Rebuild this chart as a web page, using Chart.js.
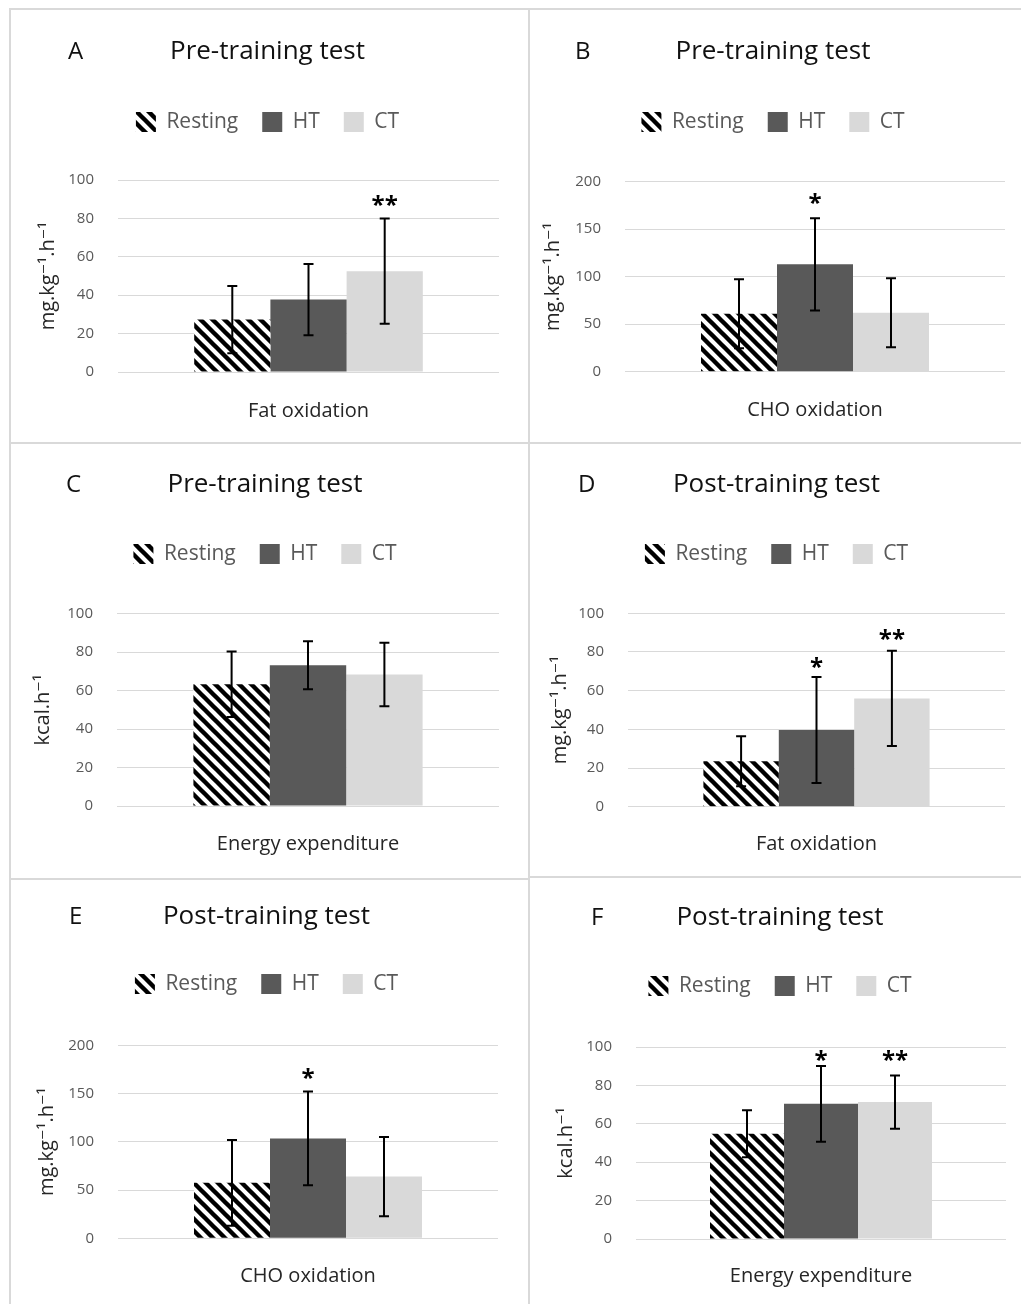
<!DOCTYPE html>
<html>
<head>
<meta charset="utf-8">
<script src="https://cdn.jsdelivr.net/npm/chart.js@4.4.1/dist/chart.umd.min.js"></script>
<style>
  body { margin: 0; background: #fff; }
  #page { position: relative; width: 1021px; height: 1304px; overflow: hidden; background: #fff; }
  .panel { position: absolute; box-sizing: border-box; border-top: 2px solid #d9d9d9; border-left: 2px solid #d9d9d9; }
  #page canvas { position: absolute; }
</style>
</head>
<body>
<div id="page"></div>
<script>
// data, one entry per panel A..F
var groups = ['Resting', 'HT', 'CT'];
var letters = ['A', 'B', 'C', 'D', 'E', 'F'];
var titles = ['Pre-training test', 'Pre-training test', 'Pre-training test',
              'Post-training test', 'Post-training test', 'Post-training test'];
var categories = ['Fat oxidation', 'CHO oxidation', 'Energy expenditure',
                  'Fat oxidation', 'CHO oxidation', 'Energy expenditure'];
var units = ['mg.kg⁻¹.h⁻¹', 'mg.kg⁻¹.h⁻¹', 'kcal.h⁻¹', 'mg.kg⁻¹.h⁻¹', 'mg.kg⁻¹.h⁻¹', 'kcal.h⁻¹'];
var yMax = [100, 200, 100, 100, 200, 100];
var yStep = [20, 50, 20, 20, 50, 20];

var restingMean = [27.3, 61, 63.3, 23.5, 57.5, 54.8];
var htMean = [37.7, 113, 73.2, 39.7, 103.5, 70.4];
var ctMean = [52.5, 62, 68.4, 56, 64, 71.3];
var restingSD = [17.5, 36.3, 17, 12.9, 44.4, 12.2];
var htSD = [18.6, 48.6, 12.5, 27.4, 48.5, 19.7];
var ctSD = [27.4, 36.3, 16.5, 24.6, 41.1, 13.9];

var htMarks = ['', '*', '', '*', '*', '*'];
var ctMarks = ['**', '', '', '**', '', '**'];
var htMarkAt = [0, 182.8, 0, 75, 171, 95.8];
var ctMarkAt = [89.6, 0, 0, 89.3, 0, 95.8];

// layout of each panel on the page (pixels)
var boxes = [
    {x: 11,  y: 10,  w: 517, h: 431, letterX: 57, titleY: 42, legendY: 112, top: 170,   bottom: 362,   left: 107, right: 488, yTitleX: 37, xLabelY: 400},
    {x: 531, y: 10,  w: 490, h: 431, letterX: 44, titleY: 42, legendY: 112, top: 171.7, bottom: 361.7, left: 94,  right: 474, yTitleX: 22, xLabelY: 399},
    {x: 11,  y: 444, w: 517, h: 432, letterX: 55, titleY: 41, legendY: 110, top: 169.7, bottom: 362,   left: 106, right: 488, yTitleX: 32, xLabelY: 399},
    {x: 531, y: 444, w: 490, h: 432, letterX: 47, titleY: 41, legendY: 110, top: 169.3, bottom: 362.7, left: 97,  right: 474, yTitleX: 29, xLabelY: 399},
    {x: 11,  y: 880, w: 517, h: 424, letterX: 58, titleY: 37, legendY: 104, top: 165.3, bottom: 358.3, left: 107, right: 487, yTitleX: 36, xLabelY: 395},
    {x: 531, y: 878, w: 490, h: 426, letterX: 60, titleY: 40, legendY: 108, top: 169,   bottom: 361,   left: 105, right: 475, yTitleX: 35, xLabelY: 397}
];
var frames = [
    {x: 9, y: 8, w: 519, h: 434}, {x: 528, y: 8, w: 493, h: 434},
    {x: 9, y: 442, w: 519, h: 436}, {x: 528, y: 442, w: 493, h: 434},
    {x: 9, y: 878, w: 519, h: 426}, {x: 528, y: 876, w: 493, h: 428}
];

var FONT = '"Open Sans", "DejaVu Sans", sans-serif';
var TITLE_SIZE = 26;
Chart.defaults.font.family = FONT;

var page = document.getElementById('page');

frames.forEach(function (f) {
    var d = document.createElement('div');
    d.className = 'panel';
    d.style.left = f.x + 'px';
    d.style.top = f.y + 'px';
    d.style.width = f.w + 'px';
    d.style.height = f.h + 'px';
    page.appendChild(d);
});

function makeHatch() {
    var c = document.createElement('canvas');
    c.width = 12;
    c.height = 12;
    var g = c.getContext('2d');
    g.fillStyle = '#ffffff';
    g.fillRect(0, 0, 12, 12);
    g.strokeStyle = '#000000';
    g.lineWidth = 4.4;
    g.beginPath();
    for (var k = -1; k <= 1; k++) {
        g.moveTo(k * 12 - 3, -3);
        g.lineTo(k * 12 + 15, 15);
    }
    g.stroke();
    return g.createPattern(c, 'repeat');
}
var hatch = makeHatch();

// error bars and significance marks
var errorBars = {
    id: 'errorBars',
    afterDatasetsDraw: function (chart) {
        var ctx = chart.ctx;
        var y = chart.scales.y;
        ctx.save();
        chart.data.datasets.forEach(function (ds, i) {
            var meta = chart.getDatasetMeta(i);
            meta.data.forEach(function (bar, j) {
                var v = ds.data[j], e = ds.errors[j];
                var t = y.getPixelForValue(v + e);
                var b = y.getPixelForValue(v - e);
                ctx.strokeStyle = '#000';
                ctx.lineWidth = 2;
                ctx.beginPath();
                ctx.moveTo(bar.x, t); ctx.lineTo(bar.x, b);
                ctx.moveTo(bar.x - 5, t); ctx.lineTo(bar.x + 5, t);
                ctx.moveTo(bar.x - 5, b); ctx.lineTo(bar.x + 5, b);
                ctx.stroke();
                if (ds.mark) {
                    ctx.fillStyle = '#000';
                    ctx.font = 'bold 24px ' + FONT;
                    ctx.textAlign = 'center';
                    ctx.textBaseline = 'alphabetic';
                    ctx.fillText(ds.mark, bar.x, y.getPixelForValue(ds.markAt) + 13);
                }
            });
        });
        ctx.restore();
    }
};

var panelLetter = {
    id: 'panelLetter',
    afterDraw: function (chart, args, opts) {
        var ctx = chart.ctx;
        ctx.save();
        ctx.fillStyle = '#111';
        ctx.font = '24px ' + FONT;
        ctx.textAlign = 'left';
        ctx.textBaseline = 'middle';
        ctx.fillText(opts.text, opts.x, opts.y);
        ctx.restore();
    }
};

// room between the legend and the plot
var legendGap = {
    id: 'legendGap',
    beforeLayout: function (chart, args, opts) {
        var lg = chart.legend;
        if (!lg || lg._gapDone) return;
        var fit = lg.fit;
        lg.fit = function () {
            fit.call(lg);
            lg.height += opts.extra;
        };
        lg._gapDone = true;
    }
};

for (var i = 0; i < 6; i++) {
    var p = boxes[i];
    var canvas = document.createElement('canvas');
    canvas.width = p.w;
    canvas.height = p.h;
    canvas.style.left = p.x + 'px';
    canvas.style.top = p.y + 'px';
    canvas.style.width = p.w + 'px';
    canvas.style.height = p.h + 'px';
    page.appendChild(canvas);

    var padL = p.yTitleX - 12;
    var yWidth = p.left - padL;
    var xHeight = p.h - p.bottom;
    var halfTitle = TITLE_SIZE * 0.6;

    new Chart(canvas.getContext('2d'), {
        type: 'bar',
        data: {
            labels: [categories[i]],
            datasets: [
                {label: groups[0], data: [restingMean[i]], errors: [restingSD[i]], backgroundColor: hatch, borderWidth: 0},
                {label: groups[1], data: [htMean[i]], errors: [htSD[i]], mark: htMarks[i], markAt: htMarkAt[i], backgroundColor: '#595959', borderWidth: 0},
                {label: groups[2], data: [ctMean[i]], errors: [ctSD[i]], mark: ctMarks[i], markAt: ctMarkAt[i], backgroundColor: '#d9d9d9', borderWidth: 0}
            ]
        },
        options: {
            responsive: false,
            animation: false,
            devicePixelRatio: 1,
            categoryPercentage: 0.6,
            barPercentage: 1.0,
            layout: {padding: {left: padL, right: p.w - p.right, top: 0, bottom: 0}},
            plugins: {
                tooltip: {enabled: false},
                title: {
                    display: true,
                    text: titles[i],
                    color: '#111',
                    font: {size: TITLE_SIZE, weight: 'normal'},
                    padding: {top: p.titleY - halfTitle, bottom: p.legendY - p.titleY - halfTitle - 34.5}
                },
                legend: {
                    position: 'top',
                    labels: {
                        color: '#595959',
                        font: {size: 21},
                        boxWidth: 20,
                        boxHeight: 20,
                        padding: 24
                    }
                },
                legendGap: {extra: p.top - (p.legendY + 20.5)},
                panelLetter: {text: letters[i], x: p.letterX, y: p.titleY}
            },
            scales: {
                x: {
                    grid: {display: false},
                    border: {display: false},
                    ticks: {color: '#262626', font: {size: 20}, padding: p.xLabelY - p.bottom - 19},
                    afterFit: (function (hgt) { return function (s) { s.height = hgt; }; })(xHeight)
                },
                y: {
                    min: 0,
                    max: yMax[i],
                    grid: {color: '#d9d9d9', lineWidth: 1, drawTicks: false},
                    border: {display: false},
                    ticks: {stepSize: yStep[i], color: '#595959', font: {size: 15}, padding: 24},
                    title: {display: true, text: units[i], color: '#262626', font: {size: 20}, padding: 0},
                    afterFit: (function (wd) { return function (s) { s.width = wd; }; })(yWidth)
                }
            }
        },
        plugins: [errorBars, panelLetter, legendGap]
    });
}
</script>
</body>
</html>
